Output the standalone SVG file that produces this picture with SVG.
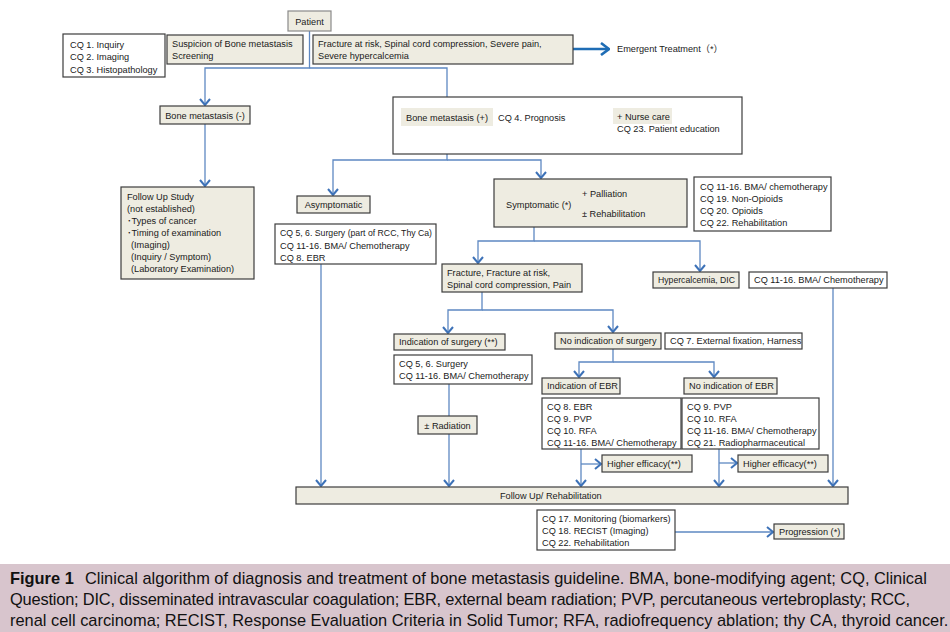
<svg xmlns="http://www.w3.org/2000/svg" width="950" height="632" viewBox="0 0 950 632">
<style>
.bx{fill:#eeece1;stroke:#3c3c3c;stroke-width:1.2}
.wb{fill:#ffffff;stroke:#3c3c3c;stroke-width:1.2}
.lb{fill:#eeece1;stroke:none}
.t{font-family:"Liberation Sans",Arial,"Noto Sans CJK JP",sans-serif;font-size:9.2px;fill:#1a1a1a}
.c{fill:none;stroke:#5e88c2;stroke-width:1.3}
.cap{font-family:"Liberation Sans",Arial,sans-serif;font-size:16.4px;fill:#111}
</style>
<defs>
<marker id="ah" viewBox="0 0 10 12" refX="9" refY="6" markerWidth="10" markerHeight="12" markerUnits="userSpaceOnUse" orient="auto">
<path d="M3,1 L9,6 L3,11" fill="none" stroke="#3d72b8" stroke-width="2"/>
</marker>
<marker id="ahb" viewBox="0 0 12 14" refX="11" refY="7" markerWidth="12" markerHeight="14" markerUnits="userSpaceOnUse" orient="auto">
<path d="M3,1 L11,7 L3,13" fill="none" stroke="#1f6db5" stroke-width="2.6"/>
</marker>
</defs>
<rect x="0" y="0" width="950" height="632" fill="#ffffff"/>

<g id="connectors">
<path class="c" d="M309.5,31 V68 H205 V105" marker-end="url(#ah)"/>
<path class="c" d="M309.5,68 H447 V106" marker-end="url(#ah)"/>
<path d="M573,49 H609" fill="none" stroke="#1f6db5" stroke-width="2.6" marker-end="url(#ahb)"/>
<path class="c" d="M205,124 V186" marker-end="url(#ah)"/>
<path class="c" d="M447,126 V160 H333 V195" marker-end="url(#ah)"/>
<path class="c" d="M447,160 H541 V178" marker-end="url(#ah)"/>
<path class="c" d="M534,227 V241 H478 V263" marker-end="url(#ah)"/>
<path class="c" d="M534,241 H700 V271" marker-end="url(#ah)"/>
<path class="c" d="M833,288 V486" marker-end="url(#ah)"/>
<path class="c" d="M321,264 V486" marker-end="url(#ah)"/>
<path class="c" d="M482,292 V310 H448 V333" marker-end="url(#ah)"/>
<path class="c" d="M482,310 H613 V332" marker-end="url(#ah)"/>
<path class="c" d="M449,384 V486" marker-end="url(#ah)"/>
<path class="c" d="M613,349 V362 H579 V377" marker-end="url(#ah)"/>
<path class="c" d="M613,362 H714 V377" marker-end="url(#ah)"/>
<path class="c" d="M581,449 V486" marker-end="url(#ah)"/>
<path class="c" d="M581,464 H601" marker-end="url(#ah)"/>
<path class="c" d="M719,449 V486" marker-end="url(#ah)"/>
<path class="c" d="M719,463 H737" marker-end="url(#ah)"/>
<path class="c" d="M675,532 H773" marker-end="url(#ah)"/>
</g>

<g id="patient"><rect x="288" y="11" width="43" height="20" fill="#eeece1" stroke="#8a8a8a" stroke-width="1.2"/><text class="t" x="309.5" y="24.5" text-anchor="middle">Patient</text></g>
<g id="cq1-3"><rect class="wb" x="63" y="34" width="102" height="43"/><text class="t" x="70" y="48">CQ 1. Inquiry</text><text class="t" x="70" y="60">CQ 2. Imaging</text><text class="t" x="70" y="72.5">CQ 3. Histopathology</text></g>
<g id="suspicion"><rect class="bx" x="167" y="35" width="136" height="29"/><text class="t" x="172" y="47">Suspicion of Bone metastasis</text><text class="t" x="172" y="59">Screening</text></g>
<g id="fracture-risk"><rect class="bx" x="313" y="35" width="260" height="29"/><text class="t" x="318" y="47">Fracture at risk, Spinal cord compression, Severe pain,</text><text class="t" x="318" y="59">Severe hypercalcemia</text></g>
<g id="emergent"><text class="t" x="617" y="52">Emergent Treatment（*）</text></g>
<g id="bm-neg"><rect class="bx" x="160" y="106" width="90" height="18"/><text class="t" x="205" y="118.5" text-anchor="middle">Bone metastasis (-)</text></g>
<g id="bm-pos"><rect class="wb" x="393" y="97" width="349" height="57" fill="none"/><rect class="lb" x="401" y="108" width="92" height="18"/><text class="t" x="406" y="120.5">Bone metastasis (+)</text><text class="t" x="498" y="120.5">CQ 4. Prognosis</text><rect class="lb" x="613" y="108" width="59" height="16"/><text class="t" x="617" y="120">+ Nurse care</text><text class="t" x="617" y="132">CQ 23. Patient education</text></g>
<g id="followup-study"><rect class="bx" x="121" y="187" width="133" height="92"/><text class="t" x="127" y="200">Follow Up Study</text><text class="t" x="127" y="212">(not established)</text><text class="t" x="127" y="224">･Types of cancer</text><text class="t" x="127" y="236">･Timing of examination</text><text class="t" x="131" y="248">(Imaging)</text><text class="t" x="131" y="260">(Inquiry / Symptom)</text><text class="t" x="131" y="272">(Laboratory Examination)</text></g>
<g id="asymptomatic"><rect class="bx" x="297" y="196" width="73" height="17"/><text class="t" x="333.5" y="208" text-anchor="middle">Asymptomatic</text></g>
<g id="asym-cq"><rect class="wb" x="275" y="224" width="161" height="40"/><text class="t" x="280" y="236" textLength="152" lengthAdjust="spacingAndGlyphs">CQ 5, 6. Surgery (part of RCC, Thy Ca)</text><text class="t" x="280" y="249">CQ 11-16. BMA/ Chemotherapy</text><text class="t" x="280" y="261">CQ 8. EBR</text></g>
<g id="symptomatic"><rect class="bx" x="494" y="179" width="193" height="48"/><text class="t" x="506" y="208">Symptomatic (*)</text><text class="t" x="582" y="197">+ Palliation</text><text class="t" x="582" y="217">± Rehabilitation</text></g>
<g id="sym-cq"><rect class="wb" x="694" y="177" width="137" height="54"/><text class="t" x="700" y="190">CQ 11-16. BMA/ chemotherapy</text><text class="t" x="700" y="202">CQ 19. Non-Opioids</text><text class="t" x="700" y="214">CQ 20. Opioids</text><text class="t" x="700" y="226">CQ 22. Rehabilitation</text></g>
<g id="fracture"><rect class="bx" x="442" y="264" width="140" height="28"/><text class="t" x="447" y="276">Fracture, Fracture at risk,</text><text class="t" x="447" y="288">Spinal cord compression, Pain</text></g>
<g id="hypercalcemia"><rect class="bx" x="653" y="272" width="86" height="16"/><text class="t" x="658" y="283" textLength="77" lengthAdjust="spacingAndGlyphs">Hypercalcemia, DIC</text></g>
<g id="hyper-cq"><rect class="wb" x="749" y="272" width="138" height="16"/><text class="t" x="754" y="283">CQ 11-16. BMA/ Chemotherapy</text></g>
<g id="surgery"><rect class="bx" x="394" y="334" width="111" height="16"/><text class="t" x="399" y="345">Indication of surgery (**)</text></g>
<g id="surgery-cq"><rect class="wb" x="394" y="355" width="138" height="29"/><text class="t" x="399" y="367">CQ 5, 6. Surgery</text><text class="t" x="399" y="379">CQ 11-16. BMA/ Chemotherapy</text></g>
<g id="radiation"><rect class="bx" x="418" y="416" width="59" height="18"/><text class="t" x="447.5" y="428.5" text-anchor="middle">± Radiation</text></g>
<g id="no-surgery"><rect class="bx" x="555" y="333" width="106" height="16"/><text class="t" x="560" y="344">No indication of surgery</text></g>
<g id="cq7"><rect class="wb" x="665" y="333" width="137" height="16"/><text class="t" x="670" y="344">CQ 7. External fixation, Harness</text></g>
<g id="ebr"><rect class="bx" x="542" y="378" width="78" height="16"/><text class="t" x="547" y="389">Indication of EBR</text></g>
<g id="no-ebr"><rect class="bx" x="684" y="378" width="93" height="16"/><text class="t" x="689" y="389">No indication of EBR</text></g>
<g id="ebr-cq"><rect class="wb" x="542" y="398" width="139" height="51"/><text class="t" x="547" y="410">CQ 8. EBR</text><text class="t" x="547" y="422">CQ 9. PVP</text><text class="t" x="547" y="434">CQ 10. RFA</text><text class="t" x="547" y="446">CQ 11-16. BMA/ Chemotherapy</text></g>
<g id="no-ebr-cq"><rect class="wb" x="682" y="398" width="137" height="51"/><text class="t" x="687" y="410">CQ 9. PVP</text><text class="t" x="687" y="422">CQ 10. RFA</text><text class="t" x="687" y="434">CQ 11-16. BMA/ Chemotherapy</text><text class="t" x="687" y="446">CQ 21. Radiopharmaceutical</text></g>
<g id="efficacy-1"><rect class="bx" x="602" y="455" width="90" height="17"/><text class="t" x="607" y="467">Higher efficacy(**)</text></g>
<g id="efficacy-2"><rect class="bx" x="738" y="455" width="90" height="17"/><text class="t" x="743" y="467">Higher efficacy(**)</text></g>
<g id="followup"><rect class="bx" x="296" y="487" width="552" height="17"/><text class="t" x="500" y="499">Follow Up/ Rehabilitation</text></g>
<g id="monitor-cq"><rect class="wb" x="537" y="510" width="138" height="40"/><text class="t" x="542" y="522">CQ 17. Monitoring (biomarkers)</text><text class="t" x="542" y="534">CQ 18. RECIST (Imaging)</text><text class="t" x="542" y="546">CQ 22. Rehabilitation</text></g>
<g id="progression"><rect class="bx" x="774" y="524" width="70" height="15"/><text class="t" x="779" y="535">Progression (*)</text></g>

<g id="caption">
<rect x="0" y="564" width="950" height="68" fill="#d8c5cd"/>
<text class="cap" x="10" y="584"><tspan font-weight="bold">Figure 1</tspan><tspan x="85">Clinical algorithm of diagnosis and treatment of bone metastasis guideline. BMA, bone-modifying agent; CQ, Clinical</tspan></text>
<text class="cap" x="10" y="605" textLength="900" lengthAdjust="spacing">Question; DIC, disseminated intravascular coagulation; EBR, external beam radiation; PVP, percutaneous vertebroplasty; RCC,</text>
<text class="cap" x="10" y="626">renal cell carcinoma; RECIST, Response Evaluation Criteria in Solid Tumor; RFA, radiofrequency ablation; thy CA, thyroid cancer.</text>
</g>
</svg>
